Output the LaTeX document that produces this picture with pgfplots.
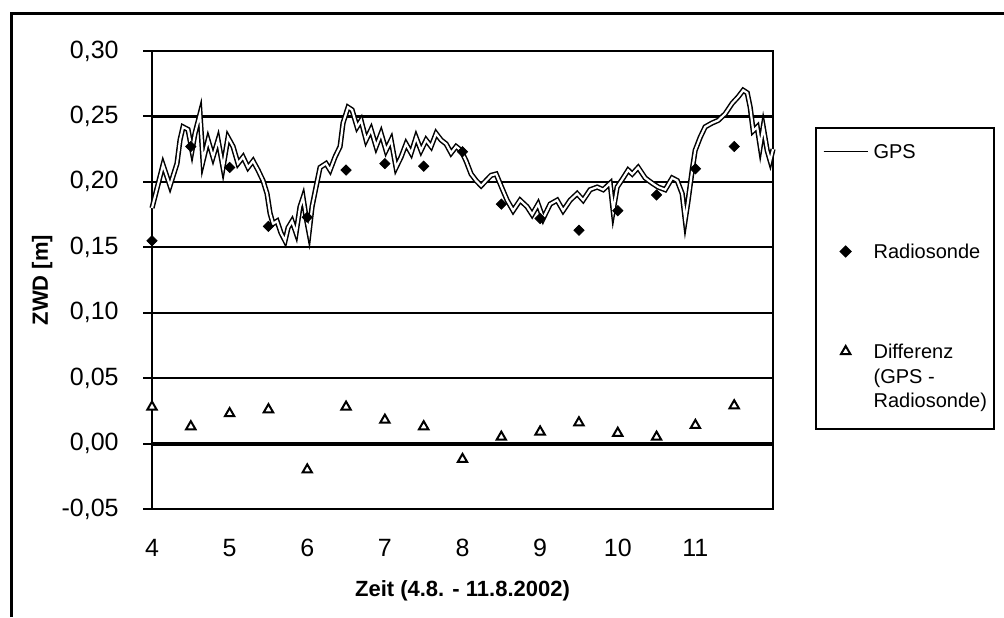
\documentclass[border=0pt]{standalone}
\usepackage{pgfplots}
\pgfplotsset{compat=1.18}
\usepackage{fontspec}
\setmainfont{Liberation Sans}
\pgfplotsset{
  mkleg/.style={legend image code/.code={\draw[mark repeat=2,mark phase=2,##1] plot coordinates {(0pt,3.7pt)(11pt,3.7pt)(22pt,3.7pt)};}},
}
\newcommand{\legtxt}[1]{\begin{tabular}[t]{@{}l@{}}#1\end{tabular}}
\begin{document}
\begin{tikzpicture}
\useasboundingbox (0,0) rectangle (502pt,308.5pt);
\draw[line width=1.5pt] (5.5pt,0pt) -- (5.5pt,301.5pt) -- (502pt,301.5pt);
\begin{axis}[
  at={(76pt,54pt)}, anchor=south west,
  scale only axis, width=310.5pt, height=229pt,
  xmin=4, xmax=12, ymin=-0.05, ymax=0.30,
  clip=false,
  xtick={4,5,6,7,8,9,10,11},
  xticklabels={4,5,6,7,8,9,10,11},
  ytick={-0.05,0,0.05,0.1,0.15,0.2,0.25,0.3},
  yticklabels={{-0,05},{0,00},{0,05},{0,10},{0,15},{0,20},{0,25},{0,30}},
  ymajorgrids, grid style={black, line width=1.2pt},
  axis line style={black, line width=1pt},
  tick align=outside, ytick pos=left, xtick pos=bottom,
  major tick length=4.5pt,
  xtick style={draw=none},
  ytick style={black, line width=1pt},
  extra y ticks={0}, extra y tick labels={},
  extra y tick style={grid style={black, line width=2pt}, tick style={draw=none}},
  ticklabel style={font=\fontsize{12.5}{15}\selectfont},
  xticklabel style={anchor=center, yshift=-15pt},
  yticklabel style={anchor=east, inner sep=0pt, xshift=-12pt},
  xlabel={Zeit (4.8. - 11.8.2002)},
  ylabel={ZWD [m]},
  label style={font=\fontsize{11}{13}\selectfont\bfseries},
  xlabel style={at={(axis description cs:0.5,-0.178)}, anchor=center},
  ylabel style={at={(axis description cs:-0.177,0.5)}, anchor=center, rotate=0},
  legend style={at={(axis description cs:1.0676,0.834)}, anchor=north west,
    draw=black, line width=0.8pt, fill=white,
    inner xsep=3.5pt, inner ysep=7pt,
    nodes={inner sep=0pt, text depth=, font=\fontsize{10}{12.25}\selectfont},
    cells={anchor=base west}, row sep=37.7pt, column sep=2.5pt},
]
\addplot[black, line width=0.75pt, double=white, double distance=1.1pt,
  legend image code/.code={\draw[line width=0.4pt, double=black, double distance=0.1pt] (0pt,3.7pt)--(22pt,3.7pt);}]
coordinates {
(4.000,0.180)(4.142,0.213)(4.232,0.197)(4.322,0.214)(4.361,0.232)(4.400,0.242)
(4.464,0.240)(4.515,0.224)(4.554,0.237)(4.619,0.252)(4.657,0.216)(4.722,0.232)
(4.786,0.219)(4.851,0.232)(4.915,0.211)(4.979,0.234)(5.044,0.227)(5.108,0.214)
(5.173,0.219)(5.237,0.211)(5.302,0.216)(5.366,0.209)(5.430,0.201)(5.482,0.191)
(5.521,0.176)(5.559,0.168)(5.611,0.170)(5.662,0.161)(5.714,0.155)(5.753,0.165)
(5.804,0.170)(5.856,0.161)(5.907,0.181)(5.946,0.188)(5.985,0.173)(6.023,0.161)
(6.062,0.181)(6.113,0.196)(6.165,0.211)(6.242,0.214)(6.294,0.209)(6.358,0.219)
(6.423,0.227)(6.461,0.245)(6.526,0.257)(6.577,0.255)(6.642,0.242)(6.693,0.247)
(6.758,0.232)(6.822,0.240)(6.887,0.227)(6.951,0.237)(7.015,0.224)(7.080,0.232)
(7.144,0.211)(7.209,0.219)(7.273,0.229)(7.338,0.222)(7.402,0.234)(7.466,0.224)
(7.531,0.232)(7.595,0.227)(7.660,0.237)(7.724,0.232)(7.789,0.229)(7.853,0.222)
(7.918,0.227)(7.982,0.224)(8.046,0.216)(8.111,0.206)(8.175,0.201)(8.240,0.197)
(8.304,0.201)(8.369,0.205)(8.433,0.206)(8.510,0.195)(8.575,0.186)(8.652,0.178)
(8.742,0.186)(8.832,0.181)(8.897,0.175)(8.974,0.183)(9.039,0.172)(9.129,0.183)
(9.219,0.186)(9.296,0.178)(9.387,0.186)(9.477,0.191)(9.554,0.186)(9.644,0.194)
(9.735,0.196)(9.812,0.194)(9.902,0.199)(9.941,0.178)(9.992,0.196)(10.070,0.203)
(10.134,0.209)(10.186,0.206)(10.263,0.211)(10.353,0.203)(10.443,0.199)(10.521,0.196)
(10.611,0.194)(10.701,0.203)(10.766,0.201)(10.830,0.191)(10.869,0.171)(10.907,0.186)
(10.959,0.209)(10.997,0.224)(11.062,0.234)(11.126,0.242)(11.216,0.245)(11.294,0.247)
(11.384,0.252)(11.474,0.260)(11.552,0.265)(11.616,0.270)(11.668,0.268)(11.706,0.257)
(11.745,0.239)(11.796,0.242)(11.835,0.227)(11.874,0.242)(11.925,0.224)(11.964,0.216)
(12.000,0.225)
};
\addlegendentry{\legtxt{GPS}}
\addplot[only marks, mark=square*, mark size=1.8pt, mark options={rotate=45, fill=black, draw=black}, mkleg]
coordinates {
(4.0,0.155)(4.5,0.227)(5.0,0.211)(5.5,0.166)(6.0,0.173)(6.5,0.209)(7.0,0.214)(7.5,0.212)
(8.0,0.223)(8.5,0.183)(9.0,0.172)(9.5,0.163)(10.0,0.178)(10.5,0.190)(11.0,0.210)(11.5,0.227)
};
\addlegendentry{\legtxt{Radiosonde}}
\addplot[only marks, mark=triangle*, mark size=2.7pt, mark options={line width=1pt, fill=white, draw=black}, mkleg]
coordinates {
(4.0,0.028)(4.5,0.013)(5.0,0.023)(5.5,0.026)(6.0,-0.020)(6.5,0.028)(7.0,0.018)(7.5,0.013)
(8.0,-0.012)(8.5,0.005)(9.0,0.009)(9.5,0.016)(10.0,0.008)(10.5,0.005)(11.0,0.014)(11.5,0.029)
};
\addlegendentry{\legtxt{Differenz\\(GPS -\\Radiosonde)}}
\end{axis}
\end{tikzpicture}
\end{document}
